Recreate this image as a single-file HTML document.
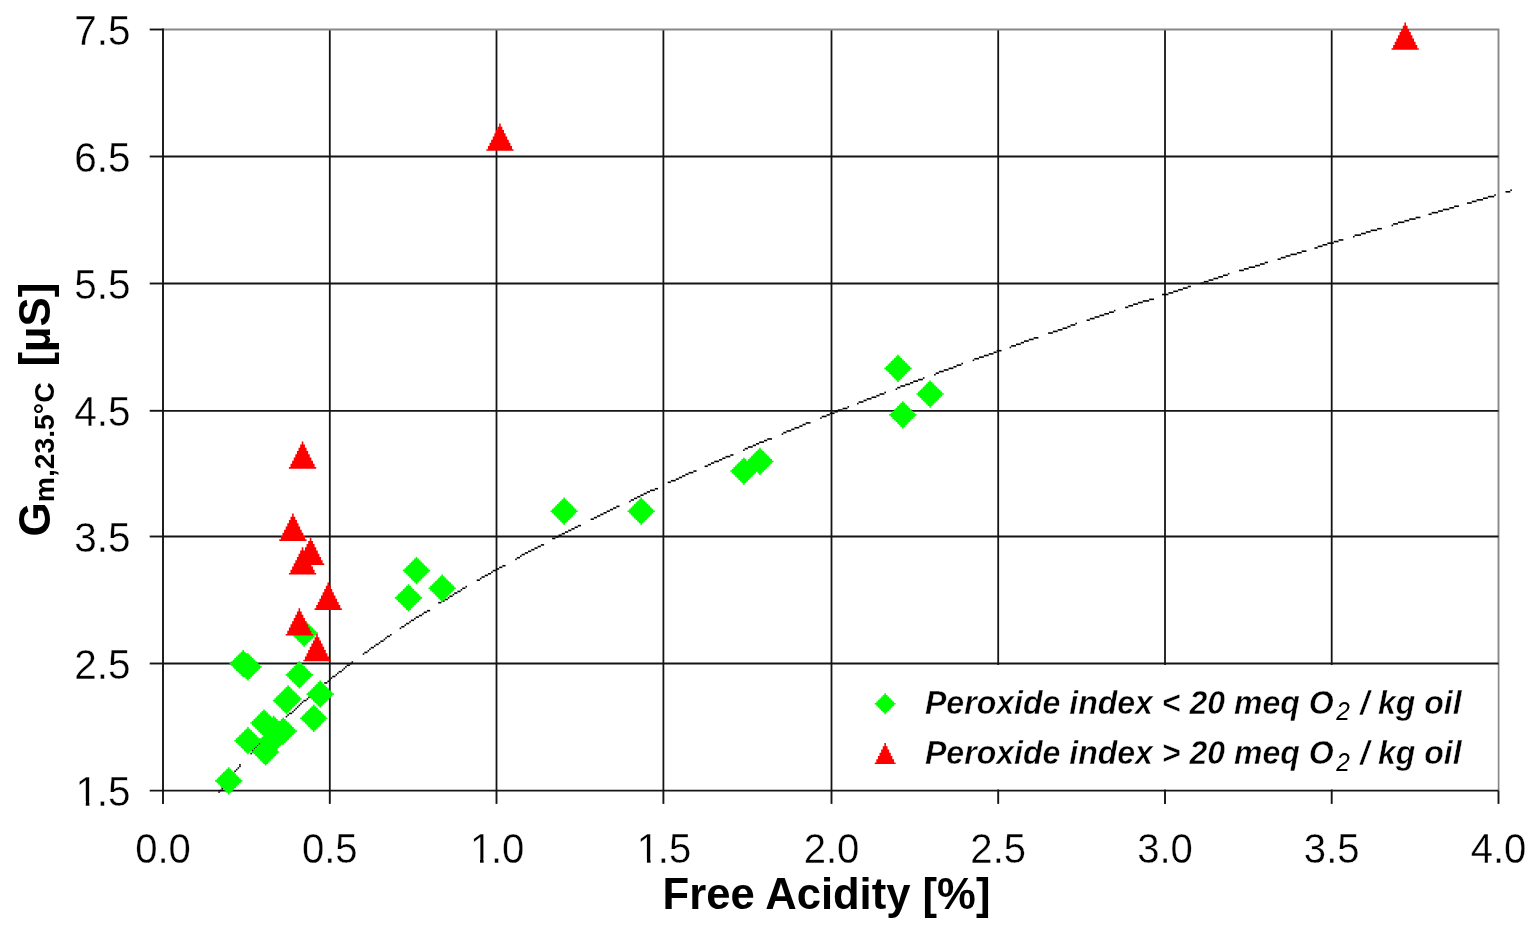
<!DOCTYPE html>
<html><head><meta charset="utf-8"><title>Chart</title>
<style>html,body{margin:0;padding:0;background:#fff;width:1538px;height:934px;overflow:hidden}</style>
</head><body>
<svg width="1538" height="934" viewBox="0 0 1538 934" style="display:block">
<rect width="1538" height="934" fill="#fff"/>
<line x1="329.8" y1="29.5" x2="329.8" y2="790.6" stroke="#141414" stroke-width="1.8"/>
<line x1="496.5" y1="29.5" x2="496.5" y2="790.6" stroke="#141414" stroke-width="1.8"/>
<line x1="663.4" y1="29.5" x2="663.4" y2="790.6" stroke="#141414" stroke-width="1.8"/>
<line x1="831.5" y1="29.5" x2="831.5" y2="790.6" stroke="#141414" stroke-width="1.8"/>
<line x1="998.2" y1="29.5" x2="998.2" y2="790.6" stroke="#141414" stroke-width="1.8"/>
<line x1="1165.0" y1="29.5" x2="1165.0" y2="790.6" stroke="#141414" stroke-width="1.8"/>
<line x1="1331.7" y1="29.5" x2="1331.7" y2="790.6" stroke="#141414" stroke-width="1.8"/>
<path d="M163.0 29.5H1498.5V790.6" fill="none" stroke="#888" stroke-width="1.9" stroke-linejoin="miter"/>
<line x1="163.0" y1="156.5" x2="1498.5" y2="156.5" stroke="#141414" stroke-width="1.8"/>
<line x1="163.0" y1="283.5" x2="1498.5" y2="283.5" stroke="#141414" stroke-width="1.8"/>
<line x1="163.0" y1="410.8" x2="1498.5" y2="410.8" stroke="#141414" stroke-width="1.8"/>
<line x1="163.0" y1="536.5" x2="1498.5" y2="536.5" stroke="#141414" stroke-width="1.8"/>
<line x1="163.0" y1="663.5" x2="1498.5" y2="663.5" stroke="#141414" stroke-width="1.8"/>
<rect x="833" y="665" width="664.5" height="124.5" fill="#fff"/>
<line x1="163.0" y1="28.6" x2="163.0" y2="803.9" stroke="#141414" stroke-width="1.9"/>
<line x1="149.7" y1="790.6" x2="1498.5" y2="790.6" stroke="#141414" stroke-width="1.9"/>
<line x1="149.7" y1="29.5" x2="163.0" y2="29.5" stroke="#141414" stroke-width="1.9"/>
<line x1="149.7" y1="156.5" x2="163.0" y2="156.5" stroke="#141414" stroke-width="1.9"/>
<line x1="149.7" y1="283.5" x2="163.0" y2="283.5" stroke="#141414" stroke-width="1.9"/>
<line x1="149.7" y1="410.8" x2="163.0" y2="410.8" stroke="#141414" stroke-width="1.9"/>
<line x1="149.7" y1="536.5" x2="163.0" y2="536.5" stroke="#141414" stroke-width="1.9"/>
<line x1="149.7" y1="663.5" x2="163.0" y2="663.5" stroke="#141414" stroke-width="1.9"/>
<line x1="329.8" y1="790.6" x2="329.8" y2="803.9" stroke="#141414" stroke-width="1.9"/>
<line x1="496.5" y1="790.6" x2="496.5" y2="803.9" stroke="#141414" stroke-width="1.9"/>
<line x1="663.4" y1="790.6" x2="663.4" y2="803.9" stroke="#141414" stroke-width="1.9"/>
<line x1="831.5" y1="790.6" x2="831.5" y2="803.9" stroke="#141414" stroke-width="1.9"/>
<line x1="998.2" y1="790.6" x2="998.2" y2="803.9" stroke="#141414" stroke-width="1.9"/>
<line x1="1165.0" y1="790.6" x2="1165.0" y2="803.9" stroke="#141414" stroke-width="1.9"/>
<line x1="1331.7" y1="790.6" x2="1331.7" y2="803.9" stroke="#141414" stroke-width="1.9"/>
<line x1="1498.5" y1="790.6" x2="1498.5" y2="803.9" stroke="#141414" stroke-width="1.9"/>
<g fill="#000"><rect x="237.54" y="767.19" width="1.60" height="1.60"/><rect x="226.31" y="781.63" width="1.60" height="1.60"/><rect x="229.51" y="776.82" width="1.60" height="1.60"/><rect x="224.70" y="783.24" width="1.60" height="1.60"/><rect x="231.12" y="775.22" width="1.60" height="1.60"/><rect x="219.88" y="789.66" width="1.60" height="1.60"/><rect x="223.09" y="784.85" width="1.60" height="1.60"/><rect x="218.28" y="791.26" width="1.60" height="1.60"/><rect x="226.31" y="780.03" width="1.60" height="1.60"/><rect x="239.15" y="763.98" width="1.60" height="1.60"/><rect x="227.91" y="778.42" width="1.60" height="1.60"/><rect x="232.72" y="773.61" width="1.60" height="1.60"/><rect x="235.94" y="768.79" width="1.60" height="1.60"/><rect x="221.49" y="788.05" width="1.60" height="1.60"/><rect x="232.72" y="772.00" width="1.60" height="1.60"/><rect x="234.33" y="770.40" width="1.60" height="1.60"/><rect x="239.15" y="765.59" width="1.60" height="1.60"/><rect x="221.49" y="786.45" width="1.60" height="1.60"/><rect x="272.85" y="728.67" width="1.60" height="1.60"/><rect x="256.80" y="744.72" width="1.60" height="1.60"/><rect x="266.43" y="735.09" width="1.60" height="1.60"/><rect x="251.98" y="749.53" width="1.60" height="1.60"/><rect x="253.59" y="747.93" width="1.60" height="1.60"/><rect x="274.45" y="727.06" width="1.60" height="1.60"/><rect x="268.04" y="733.49" width="1.60" height="1.60"/><rect x="258.40" y="743.12" width="1.60" height="1.60"/><rect x="263.22" y="738.30" width="1.60" height="1.60"/><rect x="264.82" y="736.69" width="1.60" height="1.60"/><rect x="255.19" y="746.33" width="1.60" height="1.60"/><rect x="250.38" y="752.75" width="1.60" height="1.60"/><rect x="269.64" y="731.88" width="1.60" height="1.60"/><rect x="260.01" y="741.51" width="1.60" height="1.60"/><rect x="261.62" y="739.90" width="1.60" height="1.60"/><rect x="276.06" y="725.46" width="1.60" height="1.60"/><rect x="251.98" y="751.14" width="1.60" height="1.60"/><rect x="271.25" y="730.27" width="1.60" height="1.60"/><rect x="311.37" y="693.36" width="1.60" height="1.60"/><rect x="288.90" y="712.62" width="3.21" height="1.60"/><rect x="298.53" y="704.60" width="1.60" height="1.60"/><rect x="300.13" y="702.99" width="1.60" height="1.60"/><rect x="308.16" y="696.57" width="1.60" height="1.60"/><rect x="312.98" y="691.75" width="1.60" height="1.60"/><rect x="292.11" y="711.01" width="1.60" height="1.60"/><rect x="301.74" y="701.38" width="1.60" height="1.60"/><rect x="309.76" y="694.97" width="1.60" height="1.60"/><rect x="303.34" y="699.78" width="3.21" height="1.60"/><rect x="285.69" y="715.83" width="1.60" height="1.60"/><rect x="287.30" y="714.23" width="1.60" height="1.60"/><rect x="296.93" y="706.20" width="1.60" height="1.60"/><rect x="295.32" y="707.80" width="1.60" height="1.60"/><rect x="306.56" y="698.17" width="1.60" height="1.60"/><rect x="293.71" y="709.41" width="1.60" height="1.60"/><rect x="324.21" y="682.12" width="3.21" height="1.60"/><rect x="349.89" y="662.87" width="1.60" height="1.60"/><rect x="330.63" y="677.31" width="1.60" height="1.60"/><rect x="345.07" y="666.08" width="1.60" height="1.60"/><rect x="332.24" y="675.71" width="3.21" height="1.60"/><rect x="327.42" y="680.52" width="1.60" height="1.60"/><rect x="341.87" y="669.28" width="1.60" height="1.60"/><rect x="329.02" y="678.91" width="1.60" height="1.60"/><rect x="338.65" y="670.89" width="3.21" height="1.60"/><rect x="343.47" y="667.68" width="1.60" height="1.60"/><rect x="346.68" y="664.47" width="3.21" height="1.60"/><rect x="351.50" y="661.26" width="1.60" height="1.60"/><rect x="335.44" y="674.10" width="1.60" height="1.60"/><rect x="337.05" y="672.50" width="1.60" height="1.60"/><rect x="386.81" y="635.58" width="3.21" height="1.60"/><rect x="367.55" y="650.02" width="1.60" height="1.60"/><rect x="364.33" y="651.63" width="3.21" height="1.60"/><rect x="385.20" y="637.18" width="1.60" height="1.60"/><rect x="380.38" y="640.39" width="3.21" height="1.60"/><rect x="370.75" y="646.81" width="3.21" height="1.60"/><rect x="375.57" y="643.61" width="3.21" height="1.60"/><rect x="390.01" y="633.98" width="1.60" height="1.60"/><rect x="373.96" y="645.21" width="1.60" height="1.60"/><rect x="369.15" y="648.42" width="1.60" height="1.60"/><rect x="383.59" y="638.79" width="1.60" height="1.60"/><rect x="378.78" y="642.00" width="1.60" height="1.60"/><rect x="362.73" y="653.24" width="1.60" height="1.60"/><rect x="422.12" y="613.11" width="1.60" height="1.60"/><rect x="406.06" y="622.74" width="3.21" height="1.60"/><rect x="409.27" y="621.13" width="1.60" height="1.60"/><rect x="415.69" y="616.32" width="3.21" height="1.60"/><rect x="418.90" y="614.72" width="3.21" height="1.60"/><rect x="426.93" y="609.90" width="3.21" height="1.60"/><rect x="410.88" y="619.53" width="3.21" height="1.60"/><rect x="414.09" y="617.92" width="1.60" height="1.60"/><rect x="399.64" y="627.55" width="1.60" height="1.60"/><rect x="423.72" y="611.50" width="3.21" height="1.60"/><rect x="401.25" y="625.95" width="3.21" height="1.60"/><rect x="404.46" y="624.35" width="1.60" height="1.60"/><rect x="441.38" y="600.27" width="3.21" height="1.60"/><rect x="465.45" y="585.83" width="1.60" height="1.60"/><rect x="460.63" y="589.03" width="1.60" height="1.60"/><rect x="449.40" y="595.46" width="3.21" height="1.60"/><rect x="457.43" y="590.64" width="3.21" height="1.60"/><rect x="454.21" y="592.25" width="3.21" height="1.60"/><rect x="462.24" y="587.43" width="3.21" height="1.60"/><rect x="452.61" y="593.85" width="1.60" height="1.60"/><rect x="447.80" y="597.06" width="1.60" height="1.60"/><rect x="444.58" y="598.66" width="3.21" height="1.60"/><rect x="438.17" y="601.88" width="3.21" height="1.60"/><rect x="484.71" y="574.59" width="3.21" height="1.60"/><rect x="476.69" y="579.40" width="3.21" height="1.60"/><rect x="495.94" y="568.17" width="3.21" height="1.60"/><rect x="499.15" y="566.56" width="3.21" height="1.60"/><rect x="487.92" y="572.99" width="3.21" height="1.60"/><rect x="479.89" y="577.80" width="1.60" height="1.60"/><rect x="502.37" y="564.96" width="3.21" height="1.60"/><rect x="481.50" y="576.20" width="3.21" height="1.60"/><rect x="492.74" y="569.77" width="3.21" height="1.60"/><rect x="491.13" y="571.38" width="1.60" height="1.60"/><rect x="534.47" y="547.30" width="3.21" height="1.60"/><rect x="531.25" y="548.91" width="3.21" height="1.60"/><rect x="540.88" y="544.10" width="3.21" height="1.60"/><rect x="515.21" y="558.54" width="1.60" height="1.60"/><rect x="516.81" y="556.93" width="3.21" height="1.60"/><rect x="528.04" y="550.51" width="3.21" height="1.60"/><rect x="537.67" y="545.70" width="3.21" height="1.60"/><rect x="524.84" y="552.12" width="3.21" height="1.60"/><rect x="521.62" y="553.73" width="3.21" height="1.60"/><rect x="520.02" y="555.33" width="1.60" height="1.60"/><rect x="561.75" y="532.86" width="3.21" height="1.60"/><rect x="552.12" y="537.67" width="3.21" height="1.60"/><rect x="574.59" y="526.44" width="3.21" height="1.60"/><rect x="571.38" y="528.04" width="3.21" height="1.60"/><rect x="577.80" y="524.84" width="3.21" height="1.60"/><rect x="564.96" y="531.25" width="3.21" height="1.60"/><rect x="555.33" y="536.07" width="3.21" height="1.60"/><rect x="568.17" y="529.65" width="3.21" height="1.60"/><rect x="558.54" y="534.47" width="3.21" height="1.60"/><rect x="613.11" y="507.18" width="3.21" height="1.60"/><rect x="597.06" y="515.21" width="3.21" height="1.60"/><rect x="593.85" y="516.81" width="3.21" height="1.60"/><rect x="603.48" y="512.00" width="3.21" height="1.60"/><rect x="606.69" y="510.39" width="3.21" height="1.60"/><rect x="609.90" y="508.78" width="3.21" height="1.60"/><rect x="600.27" y="513.60" width="3.21" height="1.60"/><rect x="616.32" y="505.57" width="3.21" height="1.60"/><rect x="590.64" y="518.41" width="3.21" height="1.60"/><rect x="646.81" y="491.13" width="3.21" height="1.60"/><rect x="643.61" y="492.74" width="3.21" height="1.60"/><rect x="650.02" y="489.52" width="4.81" height="1.60"/><rect x="637.18" y="495.94" width="3.21" height="1.60"/><rect x="654.84" y="487.92" width="3.21" height="1.60"/><rect x="629.16" y="500.76" width="1.60" height="1.60"/><rect x="630.76" y="499.15" width="3.21" height="1.60"/><rect x="640.39" y="494.34" width="3.21" height="1.60"/><rect x="633.98" y="497.55" width="3.21" height="1.60"/><rect x="682.12" y="475.08" width="3.21" height="1.60"/><rect x="688.54" y="471.87" width="4.81" height="1.60"/><rect x="693.36" y="470.26" width="3.21" height="1.60"/><rect x="670.89" y="479.89" width="4.81" height="1.60"/><rect x="675.71" y="478.29" width="3.21" height="1.60"/><rect x="685.34" y="473.48" width="3.21" height="1.60"/><rect x="678.91" y="476.69" width="3.21" height="1.60"/><rect x="667.68" y="481.50" width="3.21" height="1.60"/><rect x="704.60" y="465.45" width="3.21" height="1.60"/><rect x="714.23" y="460.63" width="4.81" height="1.60"/><rect x="711.01" y="462.24" width="3.21" height="1.60"/><rect x="725.46" y="455.82" width="4.81" height="1.60"/><rect x="730.27" y="454.21" width="3.21" height="1.60"/><rect x="707.80" y="463.84" width="3.21" height="1.60"/><rect x="719.04" y="459.03" width="3.21" height="1.60"/><rect x="722.25" y="457.43" width="3.21" height="1.60"/><rect x="759.16" y="441.38" width="4.81" height="1.60"/><rect x="767.19" y="438.17" width="4.81" height="1.60"/><rect x="752.75" y="444.58" width="3.21" height="1.60"/><rect x="743.12" y="449.40" width="1.60" height="1.60"/><rect x="744.72" y="447.80" width="3.21" height="1.60"/><rect x="755.96" y="442.98" width="3.21" height="1.60"/><rect x="747.93" y="446.19" width="4.81" height="1.60"/><rect x="763.98" y="439.77" width="3.21" height="1.60"/><rect x="786.45" y="430.14" width="4.81" height="1.60"/><rect x="781.63" y="433.35" width="1.60" height="1.60"/><rect x="799.29" y="425.32" width="3.21" height="1.60"/><rect x="791.26" y="428.53" width="3.21" height="1.60"/><rect x="802.50" y="423.72" width="3.21" height="1.60"/><rect x="794.48" y="426.93" width="4.81" height="1.60"/><rect x="805.71" y="422.12" width="4.81" height="1.60"/><rect x="783.24" y="431.75" width="3.21" height="1.60"/><rect x="829.78" y="412.49" width="4.81" height="1.60"/><rect x="837.81" y="409.27" width="4.81" height="1.60"/><rect x="842.62" y="407.67" width="4.81" height="1.60"/><rect x="826.58" y="414.09" width="3.21" height="1.60"/><rect x="821.76" y="415.69" width="4.81" height="1.60"/><rect x="820.15" y="417.30" width="1.60" height="1.60"/><rect x="834.60" y="410.88" width="3.21" height="1.60"/><rect x="847.44" y="406.06" width="1.60" height="1.60"/><rect x="884.36" y="391.62" width="1.60" height="1.60"/><rect x="866.70" y="398.04" width="4.81" height="1.60"/><rect x="879.54" y="393.23" width="4.81" height="1.60"/><rect x="857.07" y="402.86" width="1.60" height="1.60"/><rect x="858.67" y="401.25" width="4.81" height="1.60"/><rect x="863.49" y="399.64" width="3.21" height="1.60"/><rect x="871.51" y="396.44" width="4.81" height="1.60"/><rect x="876.33" y="394.83" width="3.21" height="1.60"/><rect x="918.06" y="378.78" width="4.81" height="1.60"/><rect x="910.03" y="381.99" width="3.21" height="1.60"/><rect x="922.88" y="377.18" width="1.60" height="1.60"/><rect x="897.19" y="386.81" width="3.21" height="1.60"/><rect x="900.40" y="385.20" width="4.81" height="1.60"/><rect x="913.25" y="380.38" width="4.81" height="1.60"/><rect x="905.22" y="383.59" width="4.81" height="1.60"/><rect x="895.59" y="388.41" width="1.60" height="1.60"/><rect x="948.55" y="367.55" width="4.81" height="1.60"/><rect x="956.58" y="364.33" width="4.81" height="1.60"/><rect x="961.39" y="362.73" width="1.60" height="1.60"/><rect x="935.72" y="372.36" width="3.21" height="1.60"/><rect x="938.92" y="370.75" width="4.81" height="1.60"/><rect x="943.74" y="369.15" width="4.81" height="1.60"/><rect x="953.37" y="365.94" width="3.21" height="1.60"/><rect x="934.11" y="373.96" width="1.60" height="1.60"/><rect x="988.68" y="353.10" width="4.81" height="1.60"/><rect x="993.50" y="351.50" width="3.21" height="1.60"/><rect x="996.71" y="349.89" width="4.81" height="1.60"/><rect x="974.24" y="357.92" width="4.81" height="1.60"/><rect x="979.05" y="356.31" width="4.81" height="1.60"/><rect x="972.63" y="359.52" width="1.60" height="1.60"/><rect x="983.87" y="354.70" width="4.81" height="1.60"/><rect x="1020.78" y="341.87" width="3.21" height="1.60"/><rect x="1033.62" y="337.05" width="4.81" height="1.60"/><rect x="1023.99" y="340.26" width="4.81" height="1.60"/><rect x="1011.15" y="345.07" width="4.81" height="1.60"/><rect x="1015.97" y="343.47" width="4.81" height="1.60"/><rect x="1028.81" y="338.65" width="4.81" height="1.60"/><rect x="1009.54" y="346.68" width="1.60" height="1.60"/><rect x="1052.88" y="330.63" width="4.81" height="1.60"/><rect x="1057.69" y="329.02" width="4.81" height="1.60"/><rect x="1075.35" y="322.61" width="1.60" height="1.60"/><rect x="1062.51" y="327.42" width="4.81" height="1.60"/><rect x="1067.33" y="325.81" width="3.21" height="1.60"/><rect x="1070.54" y="324.21" width="4.81" height="1.60"/><rect x="1048.07" y="332.24" width="4.81" height="1.60"/><rect x="1094.61" y="316.19" width="4.81" height="1.60"/><rect x="1109.06" y="311.37" width="4.81" height="1.60"/><rect x="1086.59" y="319.39" width="3.21" height="1.60"/><rect x="1099.42" y="314.58" width="4.81" height="1.60"/><rect x="1104.24" y="312.98" width="4.81" height="1.60"/><rect x="1113.87" y="309.76" width="1.60" height="1.60"/><rect x="1089.80" y="317.79" width="4.81" height="1.60"/><rect x="1137.94" y="301.74" width="4.81" height="1.60"/><rect x="1128.32" y="304.95" width="4.81" height="1.60"/><rect x="1142.76" y="300.13" width="6.42" height="1.60"/><rect x="1149.18" y="298.53" width="4.81" height="1.60"/><rect x="1133.13" y="303.34" width="4.81" height="1.60"/><rect x="1125.11" y="306.56" width="3.21" height="1.60"/><rect x="1168.44" y="292.11" width="4.81" height="1.60"/><rect x="1162.02" y="293.71" width="6.42" height="1.60"/><rect x="1173.25" y="290.50" width="4.81" height="1.60"/><rect x="1187.70" y="285.69" width="3.21" height="1.60"/><rect x="1178.07" y="288.90" width="4.81" height="1.60"/><rect x="1182.88" y="287.30" width="4.81" height="1.60"/><rect x="1223.01" y="274.45" width="4.81" height="1.60"/><rect x="1218.19" y="276.06" width="4.81" height="1.60"/><rect x="1200.54" y="282.48" width="3.21" height="1.60"/><rect x="1208.57" y="279.27" width="4.81" height="1.60"/><rect x="1213.38" y="277.67" width="4.81" height="1.60"/><rect x="1227.83" y="272.85" width="1.60" height="1.60"/><rect x="1203.75" y="280.88" width="4.81" height="1.60"/><rect x="1239.06" y="269.64" width="4.81" height="1.60"/><rect x="1243.88" y="268.04" width="4.81" height="1.60"/><rect x="1255.11" y="264.82" width="4.81" height="1.60"/><rect x="1248.69" y="266.43" width="6.42" height="1.60"/><rect x="1259.92" y="263.22" width="4.81" height="1.60"/><rect x="1264.74" y="261.62" width="3.21" height="1.60"/><rect x="1301.65" y="250.38" width="4.81" height="1.60"/><rect x="1290.42" y="253.59" width="6.42" height="1.60"/><rect x="1277.58" y="258.40" width="3.21" height="1.60"/><rect x="1296.84" y="251.98" width="4.81" height="1.60"/><rect x="1280.79" y="256.80" width="4.81" height="1.60"/><rect x="1285.61" y="255.19" width="4.81" height="1.60"/><rect x="1314.49" y="247.17" width="3.21" height="1.60"/><rect x="1338.57" y="239.15" width="4.81" height="1.60"/><rect x="1322.52" y="243.96" width="4.81" height="1.60"/><rect x="1327.34" y="242.35" width="6.42" height="1.60"/><rect x="1333.75" y="240.75" width="4.81" height="1.60"/><rect x="1317.70" y="245.56" width="4.81" height="1.60"/><rect x="1361.04" y="232.72" width="4.81" height="1.60"/><rect x="1365.86" y="231.12" width="4.81" height="1.60"/><rect x="1377.09" y="227.91" width="4.81" height="1.60"/><rect x="1353.01" y="235.94" width="1.60" height="1.60"/><rect x="1354.62" y="234.33" width="6.42" height="1.60"/><rect x="1370.67" y="229.51" width="6.42" height="1.60"/><rect x="1397.95" y="221.49" width="6.42" height="1.60"/><rect x="1409.19" y="218.28" width="6.42" height="1.60"/><rect x="1393.14" y="223.09" width="4.81" height="1.60"/><rect x="1415.61" y="216.68" width="4.81" height="1.60"/><rect x="1404.38" y="219.88" width="4.81" height="1.60"/><rect x="1391.54" y="224.70" width="1.60" height="1.60"/><rect x="1449.32" y="207.04" width="4.81" height="1.60"/><rect x="1454.13" y="205.44" width="4.81" height="1.60"/><rect x="1442.89" y="208.65" width="6.42" height="1.60"/><rect x="1431.66" y="211.86" width="6.42" height="1.60"/><rect x="1428.45" y="213.47" width="3.21" height="1.60"/><rect x="1438.08" y="210.25" width="4.81" height="1.60"/><rect x="1487.84" y="195.81" width="6.42" height="1.60"/><rect x="1471.79" y="200.62" width="4.81" height="1.60"/><rect x="1466.97" y="202.23" width="4.81" height="1.60"/><rect x="1483.02" y="197.41" width="4.81" height="1.60"/><rect x="1476.60" y="199.02" width="6.42" height="1.60"/><rect x="1494.25" y="194.20" width="1.60" height="1.60"/><rect x="1510.31" y="189.39" width="1.60" height="1.60"/><rect x="1505.49" y="191.00" width="4.81" height="1.60"/></g>
<path fill="#00ff00" d="M227.91 767.19h1.60v1.605h-1.60zM226.31 768.79h4.81v1.605h-4.81zM224.70 770.40h8.03v1.605h-8.03zM223.09 772.00h11.23v1.605h-11.23zM221.49 773.61h14.45v1.605h-14.45zM219.88 775.22h17.66v1.605h-17.66zM218.28 776.82h20.86v1.605h-20.86zM216.68 778.42h24.07v1.605h-24.07zM215.07 780.03h27.29v1.605h-27.29zM216.68 781.63h24.07v1.605h-24.07zM218.28 783.24h20.86v1.605h-20.86zM219.88 784.85h17.66v1.605h-17.66zM221.49 786.45h14.45v1.605h-14.45zM223.09 788.05h11.23v1.605h-11.23zM224.70 789.66h8.03v1.605h-8.03zM226.31 791.26h4.81v1.605h-4.81zM227.91 792.87h1.60v1.605h-1.60zM247.17 727.06h1.60v1.605h-1.60zM245.56 728.67h4.81v1.605h-4.81zM243.96 730.27h8.03v1.605h-8.03zM242.35 731.88h11.23v1.605h-11.23zM240.75 733.49h14.45v1.605h-14.45zM239.15 735.09h17.66v1.605h-17.66zM237.54 736.69h20.86v1.605h-20.86zM235.94 738.30h24.07v1.605h-24.07zM234.33 739.90h27.29v1.605h-27.29zM235.94 741.51h24.07v1.605h-24.07zM237.54 743.12h20.86v1.605h-20.86zM239.15 744.72h17.66v1.605h-17.66zM240.75 746.33h14.45v1.605h-14.45zM242.35 747.93h11.23v1.605h-11.23zM243.96 749.53h8.03v1.605h-8.03zM245.56 751.14h4.81v1.605h-4.81zM247.17 752.75h1.60v1.605h-1.60zM263.22 709.41h1.60v1.605h-1.60zM261.62 711.01h4.81v1.605h-4.81zM260.01 712.62h8.03v1.605h-8.03zM258.40 714.23h11.23v1.605h-11.23zM256.80 715.83h14.45v1.605h-14.45zM255.19 717.43h17.66v1.605h-17.66zM253.59 719.04h20.86v1.605h-20.86zM251.98 720.64h24.07v1.605h-24.07zM250.38 722.25h27.29v1.605h-27.29zM251.98 723.86h24.07v1.605h-24.07zM253.59 725.46h20.86v1.605h-20.86zM255.19 727.06h17.66v1.605h-17.66zM256.80 728.67h14.45v1.605h-14.45zM258.40 730.27h11.23v1.605h-11.23zM260.01 731.88h8.03v1.605h-8.03zM261.62 733.49h4.81v1.605h-4.81zM263.22 735.09h1.60v1.605h-1.60zM272.85 715.83h1.60v1.605h-1.60zM271.25 717.43h4.81v1.605h-4.81zM269.64 719.04h8.03v1.605h-8.03zM268.04 720.64h11.23v1.605h-11.23zM266.43 722.25h14.45v1.605h-14.45zM264.82 723.86h17.66v1.605h-17.66zM263.22 725.46h20.86v1.605h-20.86zM261.62 727.06h24.07v1.605h-24.07zM260.01 728.67h27.29v1.605h-27.29zM261.62 730.27h24.07v1.605h-24.07zM263.22 731.88h20.86v1.605h-20.86zM264.82 733.49h17.66v1.605h-17.66zM266.43 735.09h14.45v1.605h-14.45zM268.04 736.69h11.23v1.605h-11.23zM269.64 738.30h8.03v1.605h-8.03zM271.25 739.90h4.81v1.605h-4.81zM272.85 741.51h1.60v1.605h-1.60zM271.25 727.06h1.60v1.605h-1.60zM269.64 728.67h4.81v1.605h-4.81zM268.04 730.27h8.03v1.605h-8.03zM266.43 731.88h11.23v1.605h-11.23zM264.82 733.49h14.45v1.605h-14.45zM263.22 735.09h17.66v1.605h-17.66zM261.62 736.69h20.86v1.605h-20.86zM260.01 738.30h24.07v1.605h-24.07zM258.40 739.90h27.29v1.605h-27.29zM260.01 741.51h24.07v1.605h-24.07zM261.62 743.12h20.86v1.605h-20.86zM263.22 744.72h17.66v1.605h-17.66zM264.82 746.33h14.45v1.605h-14.45zM266.43 747.93h11.23v1.605h-11.23zM268.04 749.53h8.03v1.605h-8.03zM269.64 751.14h4.81v1.605h-4.81zM271.25 752.75h1.60v1.605h-1.60zM282.48 717.43h1.60v1.605h-1.60zM280.88 719.04h4.81v1.605h-4.81zM279.27 720.64h8.03v1.605h-8.03zM277.67 722.25h11.23v1.605h-11.23zM276.06 723.86h14.45v1.605h-14.45zM274.45 725.46h17.66v1.605h-17.66zM272.85 727.06h20.86v1.605h-20.86zM271.25 728.67h24.07v1.605h-24.07zM269.64 730.27h27.29v1.605h-27.29zM271.25 731.88h24.07v1.605h-24.07zM272.85 733.49h20.86v1.605h-20.86zM274.45 735.09h17.66v1.605h-17.66zM276.06 736.69h14.45v1.605h-14.45zM277.67 738.30h11.23v1.605h-11.23zM279.27 739.90h8.03v1.605h-8.03zM280.88 741.51h4.81v1.605h-4.81zM282.48 743.12h1.60v1.605h-1.60zM264.82 738.30h1.60v1.605h-1.60zM263.22 739.90h4.81v1.605h-4.81zM261.62 741.51h8.03v1.605h-8.03zM260.01 743.12h11.23v1.605h-11.23zM258.40 744.72h14.45v1.605h-14.45zM256.80 746.33h17.66v1.605h-17.66zM255.19 747.93h20.86v1.605h-20.86zM253.59 749.53h24.07v1.605h-24.07zM251.98 751.14h27.29v1.605h-27.29zM253.59 752.75h24.07v1.605h-24.07zM255.19 754.35h20.86v1.605h-20.86zM256.80 755.96h17.66v1.605h-17.66zM258.40 757.56h14.45v1.605h-14.45zM260.01 759.16h11.23v1.605h-11.23zM261.62 760.77h8.03v1.605h-8.03zM263.22 762.38h4.81v1.605h-4.81zM264.82 763.98h1.60v1.605h-1.60zM287.30 685.34h1.60v1.605h-1.60zM285.69 686.94h4.81v1.605h-4.81zM284.08 688.54h8.03v1.605h-8.03zM282.48 690.15h11.23v1.605h-11.23zM280.88 691.75h14.45v1.605h-14.45zM279.27 693.36h17.66v1.605h-17.66zM277.67 694.97h20.86v1.605h-20.86zM276.06 696.57h24.07v1.605h-24.07zM274.45 698.17h27.29v1.605h-27.29zM276.06 699.78h24.07v1.605h-24.07zM277.67 701.38h20.86v1.605h-20.86zM279.27 702.99h17.66v1.605h-17.66zM280.88 704.60h14.45v1.605h-14.45zM282.48 706.20h11.23v1.605h-11.23zM284.08 707.80h8.03v1.605h-8.03zM285.69 709.41h4.81v1.605h-4.81zM287.30 711.01h1.60v1.605h-1.60zM285.69 686.94h1.60v1.605h-1.60zM284.08 688.54h4.81v1.605h-4.81zM282.48 690.15h8.03v1.605h-8.03zM280.88 691.75h11.23v1.605h-11.23zM279.27 693.36h14.45v1.605h-14.45zM277.67 694.97h17.66v1.605h-17.66zM276.06 696.57h20.86v1.605h-20.86zM274.45 698.17h24.07v1.605h-24.07zM272.85 699.78h27.29v1.605h-27.29zM274.45 701.38h24.07v1.605h-24.07zM276.06 702.99h20.86v1.605h-20.86zM277.67 704.60h17.66v1.605h-17.66zM279.27 706.20h14.45v1.605h-14.45zM280.88 707.80h11.23v1.605h-11.23zM282.48 709.41h8.03v1.605h-8.03zM284.08 711.01h4.81v1.605h-4.81zM285.69 712.62h1.60v1.605h-1.60zM312.98 704.60h1.60v1.605h-1.60zM311.37 706.20h4.81v1.605h-4.81zM309.76 707.80h8.03v1.605h-8.03zM308.16 709.41h11.23v1.605h-11.23zM306.56 711.01h14.45v1.605h-14.45zM304.95 712.62h17.66v1.605h-17.66zM303.34 714.23h20.86v1.605h-20.86zM301.74 715.83h24.07v1.605h-24.07zM300.13 717.43h27.29v1.605h-27.29zM301.74 719.04h24.07v1.605h-24.07zM303.34 720.64h20.86v1.605h-20.86zM304.95 722.25h17.66v1.605h-17.66zM306.56 723.86h14.45v1.605h-14.45zM308.16 725.46h11.23v1.605h-11.23zM309.76 727.06h8.03v1.605h-8.03zM311.37 728.67h4.81v1.605h-4.81zM312.98 730.27h1.60v1.605h-1.60zM298.53 661.26h1.60v1.605h-1.60zM296.93 662.87h4.81v1.605h-4.81zM295.32 664.47h8.03v1.605h-8.03zM293.71 666.08h11.23v1.605h-11.23zM292.11 667.68h14.45v1.605h-14.45zM290.50 669.28h17.66v1.605h-17.66zM288.90 670.89h20.86v1.605h-20.86zM287.30 672.50h24.07v1.605h-24.07zM285.69 674.10h27.29v1.605h-27.29zM287.30 675.71h24.07v1.605h-24.07zM288.90 677.31h20.86v1.605h-20.86zM290.50 678.91h17.66v1.605h-17.66zM292.11 680.52h14.45v1.605h-14.45zM293.71 682.12h11.23v1.605h-11.23zM295.32 683.73h8.03v1.605h-8.03zM296.93 685.34h4.81v1.605h-4.81zM298.53 686.94h1.60v1.605h-1.60zM319.39 680.52h1.60v1.605h-1.60zM317.79 682.12h4.81v1.605h-4.81zM316.19 683.73h8.03v1.605h-8.03zM314.58 685.34h11.23v1.605h-11.23zM312.98 686.94h14.45v1.605h-14.45zM311.37 688.54h17.66v1.605h-17.66zM309.76 690.15h20.86v1.605h-20.86zM308.16 691.75h24.07v1.605h-24.07zM306.56 693.36h27.29v1.605h-27.29zM308.16 694.97h24.07v1.605h-24.07zM309.76 696.57h20.86v1.605h-20.86zM311.37 698.17h17.66v1.605h-17.66zM312.98 699.78h14.45v1.605h-14.45zM314.58 701.38h11.23v1.605h-11.23zM316.19 702.99h8.03v1.605h-8.03zM317.79 704.60h4.81v1.605h-4.81zM319.39 706.20h1.60v1.605h-1.60zM242.35 650.02h1.60v1.605h-1.60zM240.75 651.63h4.81v1.605h-4.81zM239.15 653.24h8.03v1.605h-8.03zM237.54 654.84h11.23v1.605h-11.23zM235.94 656.44h14.45v1.605h-14.45zM234.33 658.05h17.66v1.605h-17.66zM232.72 659.65h20.86v1.605h-20.86zM231.12 661.26h24.07v1.605h-24.07zM229.51 662.87h27.29v1.605h-27.29zM231.12 664.47h24.07v1.605h-24.07zM232.72 666.08h20.86v1.605h-20.86zM234.33 667.68h17.66v1.605h-17.66zM235.94 669.28h14.45v1.605h-14.45zM237.54 670.89h11.23v1.605h-11.23zM239.15 672.50h8.03v1.605h-8.03zM240.75 674.10h4.81v1.605h-4.81zM242.35 675.71h1.60v1.605h-1.60zM247.17 653.24h1.60v1.605h-1.60zM245.56 654.84h4.81v1.605h-4.81zM243.96 656.44h8.03v1.605h-8.03zM242.35 658.05h11.23v1.605h-11.23zM240.75 659.65h14.45v1.605h-14.45zM239.15 661.26h17.66v1.605h-17.66zM237.54 662.87h20.86v1.605h-20.86zM235.94 664.47h24.07v1.605h-24.07zM234.33 666.08h27.29v1.605h-27.29zM235.94 667.68h24.07v1.605h-24.07zM237.54 669.28h20.86v1.605h-20.86zM239.15 670.89h17.66v1.605h-17.66zM240.75 672.50h14.45v1.605h-14.45zM242.35 674.10h11.23v1.605h-11.23zM243.96 675.71h8.03v1.605h-8.03zM245.56 677.31h4.81v1.605h-4.81zM247.17 678.91h1.60v1.605h-1.60zM303.34 619.53h1.60v1.605h-1.60zM301.74 621.13h4.81v1.605h-4.81zM300.13 622.74h8.03v1.605h-8.03zM298.53 624.35h11.23v1.605h-11.23zM296.93 625.95h14.45v1.605h-14.45zM295.32 627.55h17.66v1.605h-17.66zM293.71 629.16h20.86v1.605h-20.86zM292.11 630.76h24.07v1.605h-24.07zM290.50 632.37h27.29v1.605h-27.29zM292.11 633.98h24.07v1.605h-24.07zM293.71 635.58h20.86v1.605h-20.86zM295.32 637.18h17.66v1.605h-17.66zM296.93 638.79h14.45v1.605h-14.45zM298.53 640.39h11.23v1.605h-11.23zM300.13 642.00h8.03v1.605h-8.03zM301.74 643.61h4.81v1.605h-4.81zM303.34 645.21h1.60v1.605h-1.60zM407.67 584.22h1.60v1.605h-1.60zM406.06 585.83h4.81v1.605h-4.81zM404.46 587.43h8.03v1.605h-8.03zM402.86 589.03h11.23v1.605h-11.23zM401.25 590.64h14.45v1.605h-14.45zM399.64 592.25h17.66v1.605h-17.66zM398.04 593.85h20.86v1.605h-20.86zM396.44 595.46h24.07v1.605h-24.07zM394.83 597.06h27.29v1.605h-27.29zM396.44 598.66h24.07v1.605h-24.07zM398.04 600.27h20.86v1.605h-20.86zM399.64 601.88h17.66v1.605h-17.66zM401.25 603.48h14.45v1.605h-14.45zM402.86 605.09h11.23v1.605h-11.23zM404.46 606.69h8.03v1.605h-8.03zM406.06 608.29h4.81v1.605h-4.81zM407.67 609.90h1.60v1.605h-1.60zM415.69 556.93h1.60v1.605h-1.60zM414.09 558.54h4.81v1.605h-4.81zM412.49 560.14h8.03v1.605h-8.03zM410.88 561.75h11.23v1.605h-11.23zM409.27 563.36h14.45v1.605h-14.45zM407.67 564.96h17.66v1.605h-17.66zM406.06 566.56h20.86v1.605h-20.86zM404.46 568.17h24.07v1.605h-24.07zM402.86 569.77h27.29v1.605h-27.29zM404.46 571.38h24.07v1.605h-24.07zM406.06 572.99h20.86v1.605h-20.86zM407.67 574.59h17.66v1.605h-17.66zM409.27 576.20h14.45v1.605h-14.45zM410.88 577.80h11.23v1.605h-11.23zM412.49 579.40h8.03v1.605h-8.03zM414.09 581.01h4.81v1.605h-4.81zM415.69 582.62h1.60v1.605h-1.60zM441.38 574.59h1.60v1.605h-1.60zM439.77 576.20h4.81v1.605h-4.81zM438.17 577.80h8.03v1.605h-8.03zM436.56 579.40h11.23v1.605h-11.23zM434.95 581.01h14.45v1.605h-14.45zM433.35 582.62h17.66v1.605h-17.66zM431.75 584.22h20.86v1.605h-20.86zM430.14 585.83h24.07v1.605h-24.07zM428.53 587.43h27.29v1.605h-27.29zM430.14 589.03h24.07v1.605h-24.07zM431.75 590.64h20.86v1.605h-20.86zM433.35 592.25h17.66v1.605h-17.66zM434.95 593.85h14.45v1.605h-14.45zM436.56 595.46h11.23v1.605h-11.23zM438.17 597.06h8.03v1.605h-8.03zM439.77 598.66h4.81v1.605h-4.81zM441.38 600.27h1.60v1.605h-1.60zM563.36 497.55h1.60v1.605h-1.60zM561.75 499.15h4.81v1.605h-4.81zM560.14 500.76h8.03v1.605h-8.03zM558.54 502.37h11.23v1.605h-11.23zM556.93 503.97h14.45v1.605h-14.45zM555.33 505.57h17.66v1.605h-17.66zM553.73 507.18h20.86v1.605h-20.86zM552.12 508.78h24.07v1.605h-24.07zM550.51 510.39h27.29v1.605h-27.29zM552.12 512.00h24.07v1.605h-24.07zM553.73 513.60h20.86v1.605h-20.86zM555.33 515.21h17.66v1.605h-17.66zM556.93 516.81h14.45v1.605h-14.45zM558.54 518.41h11.23v1.605h-11.23zM560.14 520.02h8.03v1.605h-8.03zM561.75 521.62h4.81v1.605h-4.81zM563.36 523.23h1.60v1.605h-1.60zM640.39 497.55h1.60v1.605h-1.60zM638.79 499.15h4.81v1.605h-4.81zM637.18 500.76h8.03v1.605h-8.03zM635.58 502.37h11.23v1.605h-11.23zM633.98 503.97h14.45v1.605h-14.45zM632.37 505.57h17.66v1.605h-17.66zM630.76 507.18h20.86v1.605h-20.86zM629.16 508.78h24.07v1.605h-24.07zM627.55 510.39h27.29v1.605h-27.29zM629.16 512.00h24.07v1.605h-24.07zM630.76 513.60h20.86v1.605h-20.86zM632.37 515.21h17.66v1.605h-17.66zM633.98 516.81h14.45v1.605h-14.45zM635.58 518.41h11.23v1.605h-11.23zM637.18 520.02h8.03v1.605h-8.03zM638.79 521.62h4.81v1.605h-4.81zM640.39 523.23h1.60v1.605h-1.60zM743.12 457.43h1.60v1.605h-1.60zM741.51 459.03h4.81v1.605h-4.81zM739.90 460.63h8.03v1.605h-8.03zM738.30 462.24h11.23v1.605h-11.23zM736.69 463.84h14.45v1.605h-14.45zM735.09 465.45h17.66v1.605h-17.66zM733.49 467.06h20.86v1.605h-20.86zM731.88 468.66h24.07v1.605h-24.07zM730.27 470.26h27.29v1.605h-27.29zM731.88 471.87h24.07v1.605h-24.07zM733.49 473.48h20.86v1.605h-20.86zM735.09 475.08h17.66v1.605h-17.66zM736.69 476.69h14.45v1.605h-14.45zM738.30 478.29h11.23v1.605h-11.23zM739.90 479.89h8.03v1.605h-8.03zM741.51 481.50h4.81v1.605h-4.81zM743.12 483.11h1.60v1.605h-1.60zM759.16 447.80h1.60v1.605h-1.60zM757.56 449.40h4.81v1.605h-4.81zM755.96 451.00h8.03v1.605h-8.03zM754.35 452.61h11.23v1.605h-11.23zM752.75 454.21h14.45v1.605h-14.45zM751.14 455.82h17.66v1.605h-17.66zM749.53 457.43h20.86v1.605h-20.86zM747.93 459.03h24.07v1.605h-24.07zM746.33 460.63h27.29v1.605h-27.29zM747.93 462.24h24.07v1.605h-24.07zM749.53 463.84h20.86v1.605h-20.86zM751.14 465.45h17.66v1.605h-17.66zM752.75 467.06h14.45v1.605h-14.45zM754.35 468.66h11.23v1.605h-11.23zM755.96 470.26h8.03v1.605h-8.03zM757.56 471.87h4.81v1.605h-4.81zM759.16 473.48h1.60v1.605h-1.60zM897.19 354.70h1.60v1.605h-1.60zM895.59 356.31h4.81v1.605h-4.81zM893.99 357.92h8.03v1.605h-8.03zM892.38 359.52h11.23v1.605h-11.23zM890.77 361.12h14.45v1.605h-14.45zM889.17 362.73h17.66v1.605h-17.66zM887.56 364.33h20.86v1.605h-20.86zM885.96 365.94h24.07v1.605h-24.07zM884.36 367.55h27.29v1.605h-27.29zM885.96 369.15h24.07v1.605h-24.07zM887.56 370.75h20.86v1.605h-20.86zM889.17 372.36h17.66v1.605h-17.66zM890.77 373.96h14.45v1.605h-14.45zM892.38 375.57h11.23v1.605h-11.23zM893.99 377.18h8.03v1.605h-8.03zM895.59 378.78h4.81v1.605h-4.81zM897.19 380.38h1.60v1.605h-1.60zM929.29 380.38h1.60v1.605h-1.60zM927.69 381.99h4.81v1.605h-4.81zM926.09 383.59h8.03v1.605h-8.03zM924.48 385.20h11.23v1.605h-11.23zM922.88 386.81h14.45v1.605h-14.45zM921.27 388.41h17.66v1.605h-17.66zM919.66 390.01h20.86v1.605h-20.86zM918.06 391.62h24.07v1.605h-24.07zM916.46 393.23h27.29v1.605h-27.29zM918.06 394.83h24.07v1.605h-24.07zM919.66 396.44h20.86v1.605h-20.86zM921.27 398.04h17.66v1.605h-17.66zM922.88 399.64h14.45v1.605h-14.45zM924.48 401.25h11.23v1.605h-11.23zM926.09 402.86h8.03v1.605h-8.03zM927.69 404.46h4.81v1.605h-4.81zM929.29 406.06h1.60v1.605h-1.60zM902.01 401.25h1.60v1.605h-1.60zM900.40 402.86h4.81v1.605h-4.81zM898.80 404.46h8.03v1.605h-8.03zM897.19 406.06h11.23v1.605h-11.23zM895.59 407.67h14.45v1.605h-14.45zM893.99 409.27h17.66v1.605h-17.66zM892.38 410.88h20.86v1.605h-20.86zM890.77 412.49h24.07v1.605h-24.07zM889.17 414.09h27.29v1.605h-27.29zM890.77 415.69h24.07v1.605h-24.07zM892.38 417.30h20.86v1.605h-20.86zM893.99 418.90h17.66v1.605h-17.66zM895.59 420.51h14.45v1.605h-14.45zM897.19 422.12h11.23v1.605h-11.23zM898.80 423.72h8.03v1.605h-8.03zM900.40 425.32h4.81v1.605h-4.81zM902.01 426.93h1.60v1.605h-1.60z"/>
<path fill="#ff0000" d="M301.74 441.38h1.60v1.605h-1.60zM301.74 442.98h1.60v1.605h-1.60zM300.13 444.58h4.81v1.605h-4.81zM300.13 446.19h4.81v1.605h-4.81zM298.53 447.80h8.03v1.605h-8.03zM298.53 449.40h8.03v1.605h-8.03zM296.93 451.00h11.23v1.605h-11.23zM296.93 452.61h11.23v1.605h-11.23zM295.32 454.21h14.45v1.605h-14.45zM295.32 455.82h14.45v1.605h-14.45zM293.71 457.43h17.66v1.605h-17.66zM293.71 459.03h17.66v1.605h-17.66zM292.11 460.63h20.86v1.605h-20.86zM292.11 462.24h20.86v1.605h-20.86zM290.50 463.84h24.07v1.605h-24.07zM290.50 465.45h24.07v1.605h-24.07zM288.90 467.06h27.29v1.605h-27.29zM292.11 513.60h1.60v1.605h-1.60zM292.11 515.21h1.60v1.605h-1.60zM290.50 516.81h4.81v1.605h-4.81zM290.50 518.41h4.81v1.605h-4.81zM288.90 520.02h8.03v1.605h-8.03zM288.90 521.62h8.03v1.605h-8.03zM287.30 523.23h11.23v1.605h-11.23zM287.30 524.84h11.23v1.605h-11.23zM285.69 526.44h14.45v1.605h-14.45zM285.69 528.04h14.45v1.605h-14.45zM284.08 529.65h17.66v1.605h-17.66zM284.08 531.25h17.66v1.605h-17.66zM282.48 532.86h20.86v1.605h-20.86zM282.48 534.47h20.86v1.605h-20.86zM280.88 536.07h24.07v1.605h-24.07zM280.88 537.67h24.07v1.605h-24.07zM279.27 539.28h27.29v1.605h-27.29zM309.76 537.67h1.60v1.605h-1.60zM309.76 539.28h1.60v1.605h-1.60zM308.16 540.88h4.81v1.605h-4.81zM308.16 542.49h4.81v1.605h-4.81zM306.56 544.10h8.03v1.605h-8.03zM306.56 545.70h8.03v1.605h-8.03zM304.95 547.30h11.23v1.605h-11.23zM304.95 548.91h11.23v1.605h-11.23zM303.34 550.51h14.45v1.605h-14.45zM303.34 552.12h14.45v1.605h-14.45zM301.74 553.73h17.66v1.605h-17.66zM301.74 555.33h17.66v1.605h-17.66zM300.13 556.93h20.86v1.605h-20.86zM300.13 558.54h20.86v1.605h-20.86zM298.53 560.14h24.07v1.605h-24.07zM298.53 561.75h24.07v1.605h-24.07zM296.93 563.36h27.29v1.605h-27.29zM301.74 547.30h1.60v1.605h-1.60zM301.74 548.91h1.60v1.605h-1.60zM300.13 550.51h4.81v1.605h-4.81zM300.13 552.12h4.81v1.605h-4.81zM298.53 553.73h8.03v1.605h-8.03zM298.53 555.33h8.03v1.605h-8.03zM296.93 556.93h11.23v1.605h-11.23zM296.93 558.54h11.23v1.605h-11.23zM295.32 560.14h14.45v1.605h-14.45zM295.32 561.75h14.45v1.605h-14.45zM293.71 563.36h17.66v1.605h-17.66zM293.71 564.96h17.66v1.605h-17.66zM292.11 566.56h20.86v1.605h-20.86zM292.11 568.17h20.86v1.605h-20.86zM290.50 569.77h24.07v1.605h-24.07zM290.50 571.38h24.07v1.605h-24.07zM288.90 572.99h27.29v1.605h-27.29zM327.42 582.62h1.60v1.605h-1.60zM327.42 584.22h1.60v1.605h-1.60zM325.81 585.83h4.81v1.605h-4.81zM325.81 587.43h4.81v1.605h-4.81zM324.21 589.03h8.03v1.605h-8.03zM324.21 590.64h8.03v1.605h-8.03zM322.61 592.25h11.23v1.605h-11.23zM322.61 593.85h11.23v1.605h-11.23zM321.00 595.46h14.45v1.605h-14.45zM321.00 597.06h14.45v1.605h-14.45zM319.39 598.66h17.66v1.605h-17.66zM319.39 600.27h17.66v1.605h-17.66zM317.79 601.88h20.86v1.605h-20.86zM317.79 603.48h20.86v1.605h-20.86zM316.19 605.09h24.07v1.605h-24.07zM316.19 606.69h24.07v1.605h-24.07zM314.58 608.29h27.29v1.605h-27.29zM298.53 608.29h1.60v1.605h-1.60zM298.53 609.90h1.60v1.605h-1.60zM296.93 611.50h4.81v1.605h-4.81zM296.93 613.11h4.81v1.605h-4.81zM295.32 614.72h8.03v1.605h-8.03zM295.32 616.32h8.03v1.605h-8.03zM293.71 617.92h11.23v1.605h-11.23zM293.71 619.53h11.23v1.605h-11.23zM292.11 621.13h14.45v1.605h-14.45zM292.11 622.74h14.45v1.605h-14.45zM290.50 624.35h17.66v1.605h-17.66zM290.50 625.95h17.66v1.605h-17.66zM288.90 627.55h20.86v1.605h-20.86zM288.90 629.16h20.86v1.605h-20.86zM287.30 630.76h24.07v1.605h-24.07zM287.30 632.37h24.07v1.605h-24.07zM285.69 633.98h27.29v1.605h-27.29zM316.19 633.98h1.60v1.605h-1.60zM316.19 635.58h1.60v1.605h-1.60zM314.58 637.18h4.81v1.605h-4.81zM314.58 638.79h4.81v1.605h-4.81zM312.98 640.39h8.03v1.605h-8.03zM312.98 642.00h8.03v1.605h-8.03zM311.37 643.61h11.23v1.605h-11.23zM311.37 645.21h11.23v1.605h-11.23zM309.76 646.81h14.45v1.605h-14.45zM309.76 648.42h14.45v1.605h-14.45zM308.16 650.02h17.66v1.605h-17.66zM308.16 651.63h17.66v1.605h-17.66zM306.56 653.24h20.86v1.605h-20.86zM306.56 654.84h20.86v1.605h-20.86zM304.95 656.44h24.07v1.605h-24.07zM304.95 658.05h24.07v1.605h-24.07zM303.34 659.65h27.29v1.605h-27.29zM499.15 123.58h1.60v1.605h-1.60zM499.15 125.19h1.60v1.605h-1.60zM497.55 126.80h4.81v1.605h-4.81zM497.55 128.40h4.81v1.605h-4.81zM495.94 130.00h8.03v1.605h-8.03zM495.94 131.61h8.03v1.605h-8.03zM494.34 133.22h11.23v1.605h-11.23zM494.34 134.82h11.23v1.605h-11.23zM492.74 136.43h14.45v1.605h-14.45zM492.74 138.03h14.45v1.605h-14.45zM491.13 139.63h17.66v1.605h-17.66zM491.13 141.24h17.66v1.605h-17.66zM489.52 142.84h20.86v1.605h-20.86zM489.52 144.45h20.86v1.605h-20.86zM487.92 146.06h24.07v1.605h-24.07zM487.92 147.66h24.07v1.605h-24.07zM486.31 149.26h27.29v1.605h-27.29zM1404.38 22.47h1.60v1.605h-1.60zM1404.38 24.07h1.60v1.605h-1.60zM1402.77 25.68h4.81v1.605h-4.81zM1402.77 27.29h4.81v1.605h-4.81zM1401.16 28.89h8.03v1.605h-8.03zM1401.16 30.50h8.03v1.605h-8.03zM1399.56 32.10h11.23v1.605h-11.23zM1399.56 33.70h11.23v1.605h-11.23zM1397.95 35.31h14.45v1.605h-14.45zM1397.95 36.91h14.45v1.605h-14.45zM1396.35 38.52h17.66v1.605h-17.66zM1396.35 40.12h17.66v1.605h-17.66zM1394.74 41.73h20.86v1.605h-20.86zM1394.74 43.34h20.86v1.605h-20.86zM1393.14 44.94h24.07v1.605h-24.07zM1393.14 46.55h24.07v1.605h-24.07zM1391.54 48.15h27.29v1.605h-27.29z"/>
<path fill="#00ff00" d="M884.36 693.36h1.60v1.605h-1.60zM882.75 694.97h4.81v1.605h-4.81zM881.14 696.57h8.03v1.605h-8.03zM879.54 698.17h11.23v1.605h-11.23zM877.93 699.78h14.45v1.605h-14.45zM876.33 701.38h17.66v1.605h-17.66zM874.73 702.99h20.86v1.605h-20.86zM876.33 704.60h17.66v1.605h-17.66zM877.93 706.20h14.45v1.605h-14.45zM879.54 707.80h11.23v1.605h-11.23zM881.14 709.41h8.03v1.605h-8.03zM882.75 711.01h4.81v1.605h-4.81zM884.36 712.62h1.60v1.605h-1.60z"/>
<path fill="#ff0000" d="M884.36 743.12h1.60v1.605h-1.60zM884.36 744.72h1.60v1.605h-1.60zM882.75 746.33h4.81v1.605h-4.81zM882.75 747.93h4.81v1.605h-4.81zM881.14 749.53h8.03v1.605h-8.03zM881.14 751.14h8.03v1.605h-8.03zM879.54 752.75h11.23v1.605h-11.23zM879.54 754.35h11.23v1.605h-11.23zM877.93 755.96h14.45v1.605h-14.45zM877.93 757.56h14.45v1.605h-14.45zM876.33 759.16h17.66v1.605h-17.66zM876.33 760.77h17.66v1.605h-17.66zM874.73 762.38h20.86v1.605h-20.86z"/>
<g font-family="Liberation Sans, Arial, sans-serif" font-size="39.5" fill="#000" stroke="#fff" stroke-width="0.3">
<text transform="translate(74.26 44.60) scale(1.026 1.06)">7.5</text>
<text transform="translate(74.26 171.60) scale(1.026 1.06)">6.5</text>
<text transform="translate(74.26 298.60) scale(1.026 1.06)">5.5</text>
<text transform="translate(74.26 425.90) scale(1.026 1.06)">4.5</text>
<text transform="translate(74.26 551.60) scale(1.026 1.06)">3.5</text>
<text transform="translate(74.26 678.60) scale(1.026 1.06)">2.5</text>
<text transform="translate(74.26 805.70) scale(1.026 1.06)" clip-path="url(#c1)" x="1.31">1</text>
<text transform="translate(74.26 805.70) scale(1.026 1.06)" x="21.97">.5</text>
<text transform="translate(135.13 863.30) scale(1.015 1.073)">0.0</text>
<text transform="translate(301.93 863.30) scale(1.015 1.073)">0.5</text>
<text transform="translate(468.63 863.30) scale(1.015 1.073)" clip-path="url(#c2)" x="1.31">1</text>
<text transform="translate(468.63 863.30) scale(1.015 1.073)" x="21.97">.0</text>
<text transform="translate(635.53 863.30) scale(1.015 1.073)" clip-path="url(#c3)" x="1.31">1</text>
<text transform="translate(635.53 863.30) scale(1.015 1.073)" x="21.97">.5</text>
<text transform="translate(803.63 863.30) scale(1.015 1.073)">2.0</text>
<text transform="translate(970.33 863.30) scale(1.015 1.073)">2.5</text>
<text transform="translate(1137.13 863.30) scale(1.015 1.073)">3.0</text>
<text transform="translate(1303.83 863.30) scale(1.015 1.073)">3.5</text>
<text transform="translate(1470.63 863.30) scale(1.015 1.073)">4.0</text>
</g>
<defs><clipPath id="c1" clipPathUnits="userSpaceOnUse"><rect x="-5" y="-50" width="40" height="45.45"/><rect x="11.24" y="-6" width="3.49" height="10"/></clipPath><clipPath id="c2" clipPathUnits="userSpaceOnUse"><rect x="-5" y="-50" width="40" height="45.45"/><rect x="11.24" y="-6" width="3.49" height="10"/></clipPath><clipPath id="c3" clipPathUnits="userSpaceOnUse"><rect x="-5" y="-50" width="40" height="45.45"/><rect x="11.24" y="-6" width="3.49" height="10"/></clipPath></defs>
<text x="826.5" y="909.2" text-anchor="middle" font-family="Liberation Sans, Arial, sans-serif" font-size="43.6" font-weight="bold">Free Acidity [%]</text>
<text transform="translate(49.6 536.5) rotate(-90)" font-family="Liberation Sans, Arial, sans-serif" font-size="44" font-weight="bold">G<tspan font-size="28.3" dy="4.3">m,23.5°C</tspan><tspan dy="-4.3" dx="3.6"> [µS]</tspan></text>
<g font-family="Liberation Sans, Arial, sans-serif" font-size="32.05" font-weight="bold" font-style="italic" stroke="#fff" stroke-width="0.45">
<text transform="translate(925 713.5) scale(1 1.06)">Peroxide index &lt; 20 meq O<tspan font-size="24.4" dx="2.5" dy="6.4" font-weight="normal" stroke="none">2</tspan><tspan dx="1.5" dy="-6.4"> / kg oil</tspan></text>
<text transform="translate(925 764.3) scale(1 1.06)">Peroxide index &gt; 20 meq O<tspan font-size="24.4" dx="2.5" dy="6.4" font-weight="normal" stroke="none">2</tspan><tspan dx="1.5" dy="-6.4"> / kg oil</tspan></text>
</g>
</svg>
</body></html>
